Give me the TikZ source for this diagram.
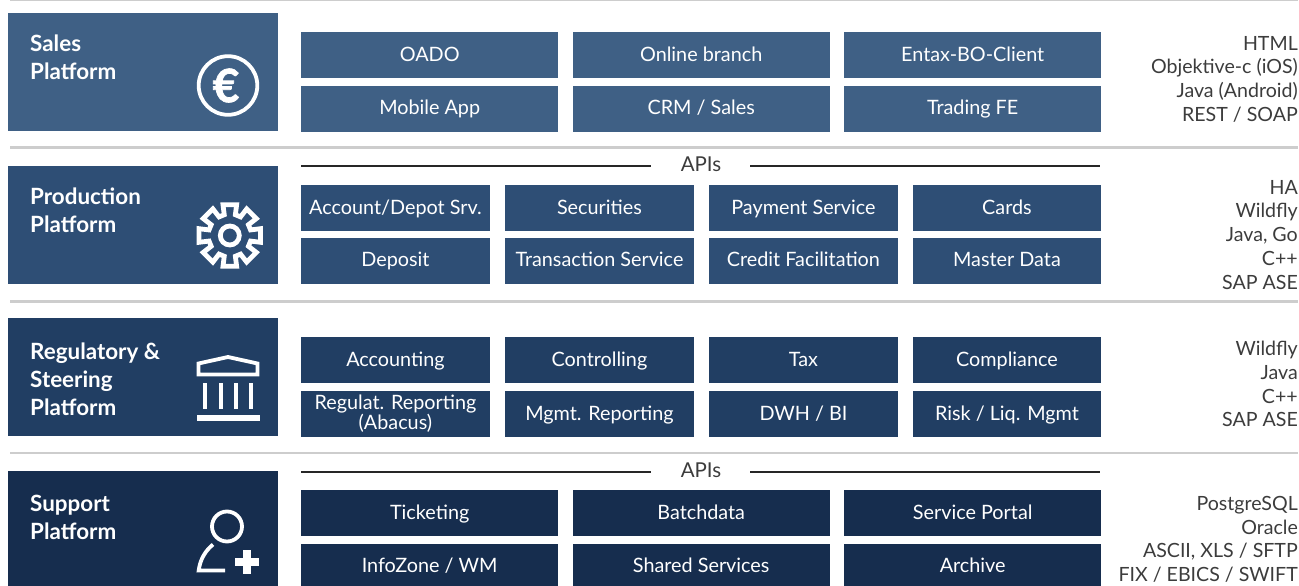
\documentclass[tikz,border=0pt]{standalone}
\usepackage{fontspec}
\setmainfont{Lato}
\newfontface\eurofont[FakeBold=1.5]{Lato Bold}
\definecolor{cA}{HTML}{3F6085}
\definecolor{cB}{HTML}{2E4E75}
\definecolor{cC}{HTML}{213E63}
\definecolor{cD}{HTML}{162D4E}
\definecolor{rulec}{HTML}{CDCDCD}
\definecolor{techc}{HTML}{3C3C3C}
\newcommand{\svcstrut}{\rule[-3pt]{0pt}{20pt}}
\newcommand{\svcstrutb}{\rule[-4pt]{0pt}{20pt}}
\newcommand{\svcstrutc}{\rule[-5pt]{0pt}{20pt}}
\tikzset{
  plat/.style={fill=#1,draw=none,inner sep=0pt,minimum width=269.5pt,minimum height=118pt,anchor=north west},
  svc/.style={fill=#1,draw=none,text=white,inner sep=0pt,font=\fontsize{19.8}{20}\selectfont,align=center,anchor=north west,minimum height=45.5pt},
  ptitle/.style={text=white,font=\fontsize{22.4}{28}\bfseries\selectfont,align=left,anchor=north west,inner sep=0pt},
  tech/.style={text=techc,font=\fontsize{19.6}{23.7}\selectfont,align=right,anchor=north east,inner sep=0pt},
  apil/.style={text=techc,font=\fontsize{20.5}{20}\selectfont,inner sep=0pt},
  apiline/.style={draw=black!85,line width=2pt},
  sep/.style={draw=rulec,line width=2.6pt},
  icon/.style={draw=white,line width=3.8pt,fill=none}
}
\begin{document}
\begin{tikzpicture}[x=1pt,y=-1pt]
\useasboundingbox (0,0) rectangle (1299,586);
% separators
\coordinate (s0a) at (10,0); \coordinate (s0b) at (1298,0);
\coordinate (s1a) at (10,147.5); \coordinate (s1b) at (1298,147.5);
\coordinate (s2a) at (10,301.3); \coordinate (s2b) at (1298,301.3);
\coordinate (s3a) at (10,453); \coordinate (s3b) at (1298,453);
\draw[sep] (s0a)--(s0b); \draw[sep] (s1a)--(s1b); \draw[sep] (s2a)--(s2b); \draw[sep] (s3a)--(s3b);
% platforms
\node[plat=cA] (p1) at (8,13) {};
\node[plat=cB] (p2) at (8,166) {};
\node[plat=cC] (p3) at (8,318) {};
\node[plat=cD,minimum height=125pt] (p4) at (8,471) {};
\node[ptitle] (t1) at (30,35) {Sales\\Platform};
\node[ptitle] (t2) at (30,188) {Production\\Platform};
\node[ptitle] (t3) at (30,343) {Regulatory \&\\Steering\\Platform};
\node[ptitle] (t4) at (30,495) {Support\\Platform};
% row 1
\foreach \n/\x/\y/\t in {a/301/32/OADO,b/572.5/32/Online branch,c/844/32/Entax-BO-Client}
  \node[svc=cA,minimum width=257pt] (r1\n) at (\x,\y) {\svcstrut\t};
\foreach \n/\x/\y/\t in {d/301/86/Mobile App,e/572.5/86/{CRM / Sales},f/844/86/Trading FE}
  \node[svc=cA,minimum width=257pt] (r1\n) at (\x,\y) {\svcstrutb\t};
% row 2
\foreach \n/\x/\y/\t in {a/301/185/{Account/Depot Srv.},b/505/185/Securities,c/709/185/Payment Service,d/912.5/185/Cards}
  \node[svc=cB,minimum width=188.5pt] (r2\n) at (\x,\y) {\svcstrut\t};
\foreach \n/\x/\y/\t in {e/301/238/Deposit,f/505/238/Transaction Service,g/709/238/Credit Facilitation,h/912.5/238/Master Data}
  \node[svc=cB,minimum width=188.5pt,minimum height=46pt] (r2\n) at (\x,\y) {\svcstrutc\t};
% row 3
\foreach \n/\x/\y/\t in {a/301/337/Accounting,b/505/337/Controlling,c/709/337/Tax,d/912.5/337/Compliance,f/505/391/Mgmt. Reporting,g/709/391/{DWH / BI},h/912.5/391/{Risk / Liq. Mgmt}}
  \node[svc=cC,minimum width=188.5pt] (r3\n) at (\x,\y) {\svcstrut\t};
\node[svc=cC,minimum width=188.5pt] (r3e) at (301,391) {Regulat. Reporting\\(Abacus)};
% row 4
\foreach \n/\x/\y/\t in {a/301/490/Ticketing,b/572.5/490/Batchdata,c/844/490/Service Portal}
  \node[svc=cD,minimum width=257pt] (r4\n) at (\x,\y) {\svcstrut\t};
\foreach \n/\x/\y/\t in {d/301/544/{InfoZone / WM},e/572.5/544/Shared Services,f/844/544/Archive}
  \node[svc=cD,minimum width=257pt] (r4\n) at (\x,\y) {\svcstrutb\t};
% APIs
\node[apil] (api1) at (701,164) {APIs};
\coordinate (a1l) at (301,166); \coordinate (a1m) at (651,166); \coordinate (a1n) at (750,166); \coordinate (a1r) at (1100,166);
\draw[apiline] (a1l)--(a1m); \draw[apiline] (a1n)--(a1r);
\node[apil] (api2) at (701,470) {APIs};
\coordinate (a2l) at (301,471.5); \coordinate (a2m) at (651,471.5); \coordinate (a2n) at (750,471.5); \coordinate (a2r) at (1100,471.5);
\draw[apiline] (a2l)--(a2m); \draw[apiline] (a2n)--(a2r);
% tech
\node[tech] (k1) at (1298,36) {HTML\\Objektive-c (iOS)\\Java (Android)\\REST / SOAP};
\node[tech] (k2) at (1298,180) {HA\\Wildfly\\Java, Go\\C++\\SAP ASE};
\node[tech] (k3) at (1298,341) {Wildfly\\Java\\C++\\SAP ASE};
\node[tech] (k4) at (1298,496) {PostgreSQL\\Oracle\\ASCII, XLS / SFTP\\FIX / EBICS / SWIFT};
% euro icon
\draw[icon] (228,85.5) circle (29.3);
\node[text=white,font=\fontsize{46}{46}\eurofont,inner sep=0pt] (euro) at (226,85.5) {€};
% gear icon
\begin{scope}[shift={(229.8,235.5)}]
\draw[icon,line width=4.8pt,line join=miter] (-15:21.5)
  \foreach \a in {0,45,...,315}{
    -- (\a-15:21.5) -- (\a-12.5:31.5) -- (\a+12.5:31.5) -- (\a+15:21.5)
  } -- cycle;
\draw[icon,line width=4.8pt] (0,0) circle (9.5);
\end{scope}
% bank icon
\draw[icon,line join=miter] (198.5,363.5) -- (228,357) -- (257.5,363.5) -- (257.5,374.5) -- (198.5,374.5) -- cycle;
\foreach \x in {205,220.5,236,251}
  \fill[white] (\x-2,383) rectangle (\x+2,409);
\fill[white] (197,415) rectangle (259.5,420.5);
% person icon
\draw[icon] (227,526.5) circle (15);
\draw[icon,line cap=butt] (213,544.5) .. controls (205,551) and (200,560) .. (198.7,570.5) -- (225,570.5);
\fill[white] (243,550) rectangle (251,573.5);
\fill[white] (235,557.5) rectangle (259,565.5);
\end{tikzpicture}
\end{document}
